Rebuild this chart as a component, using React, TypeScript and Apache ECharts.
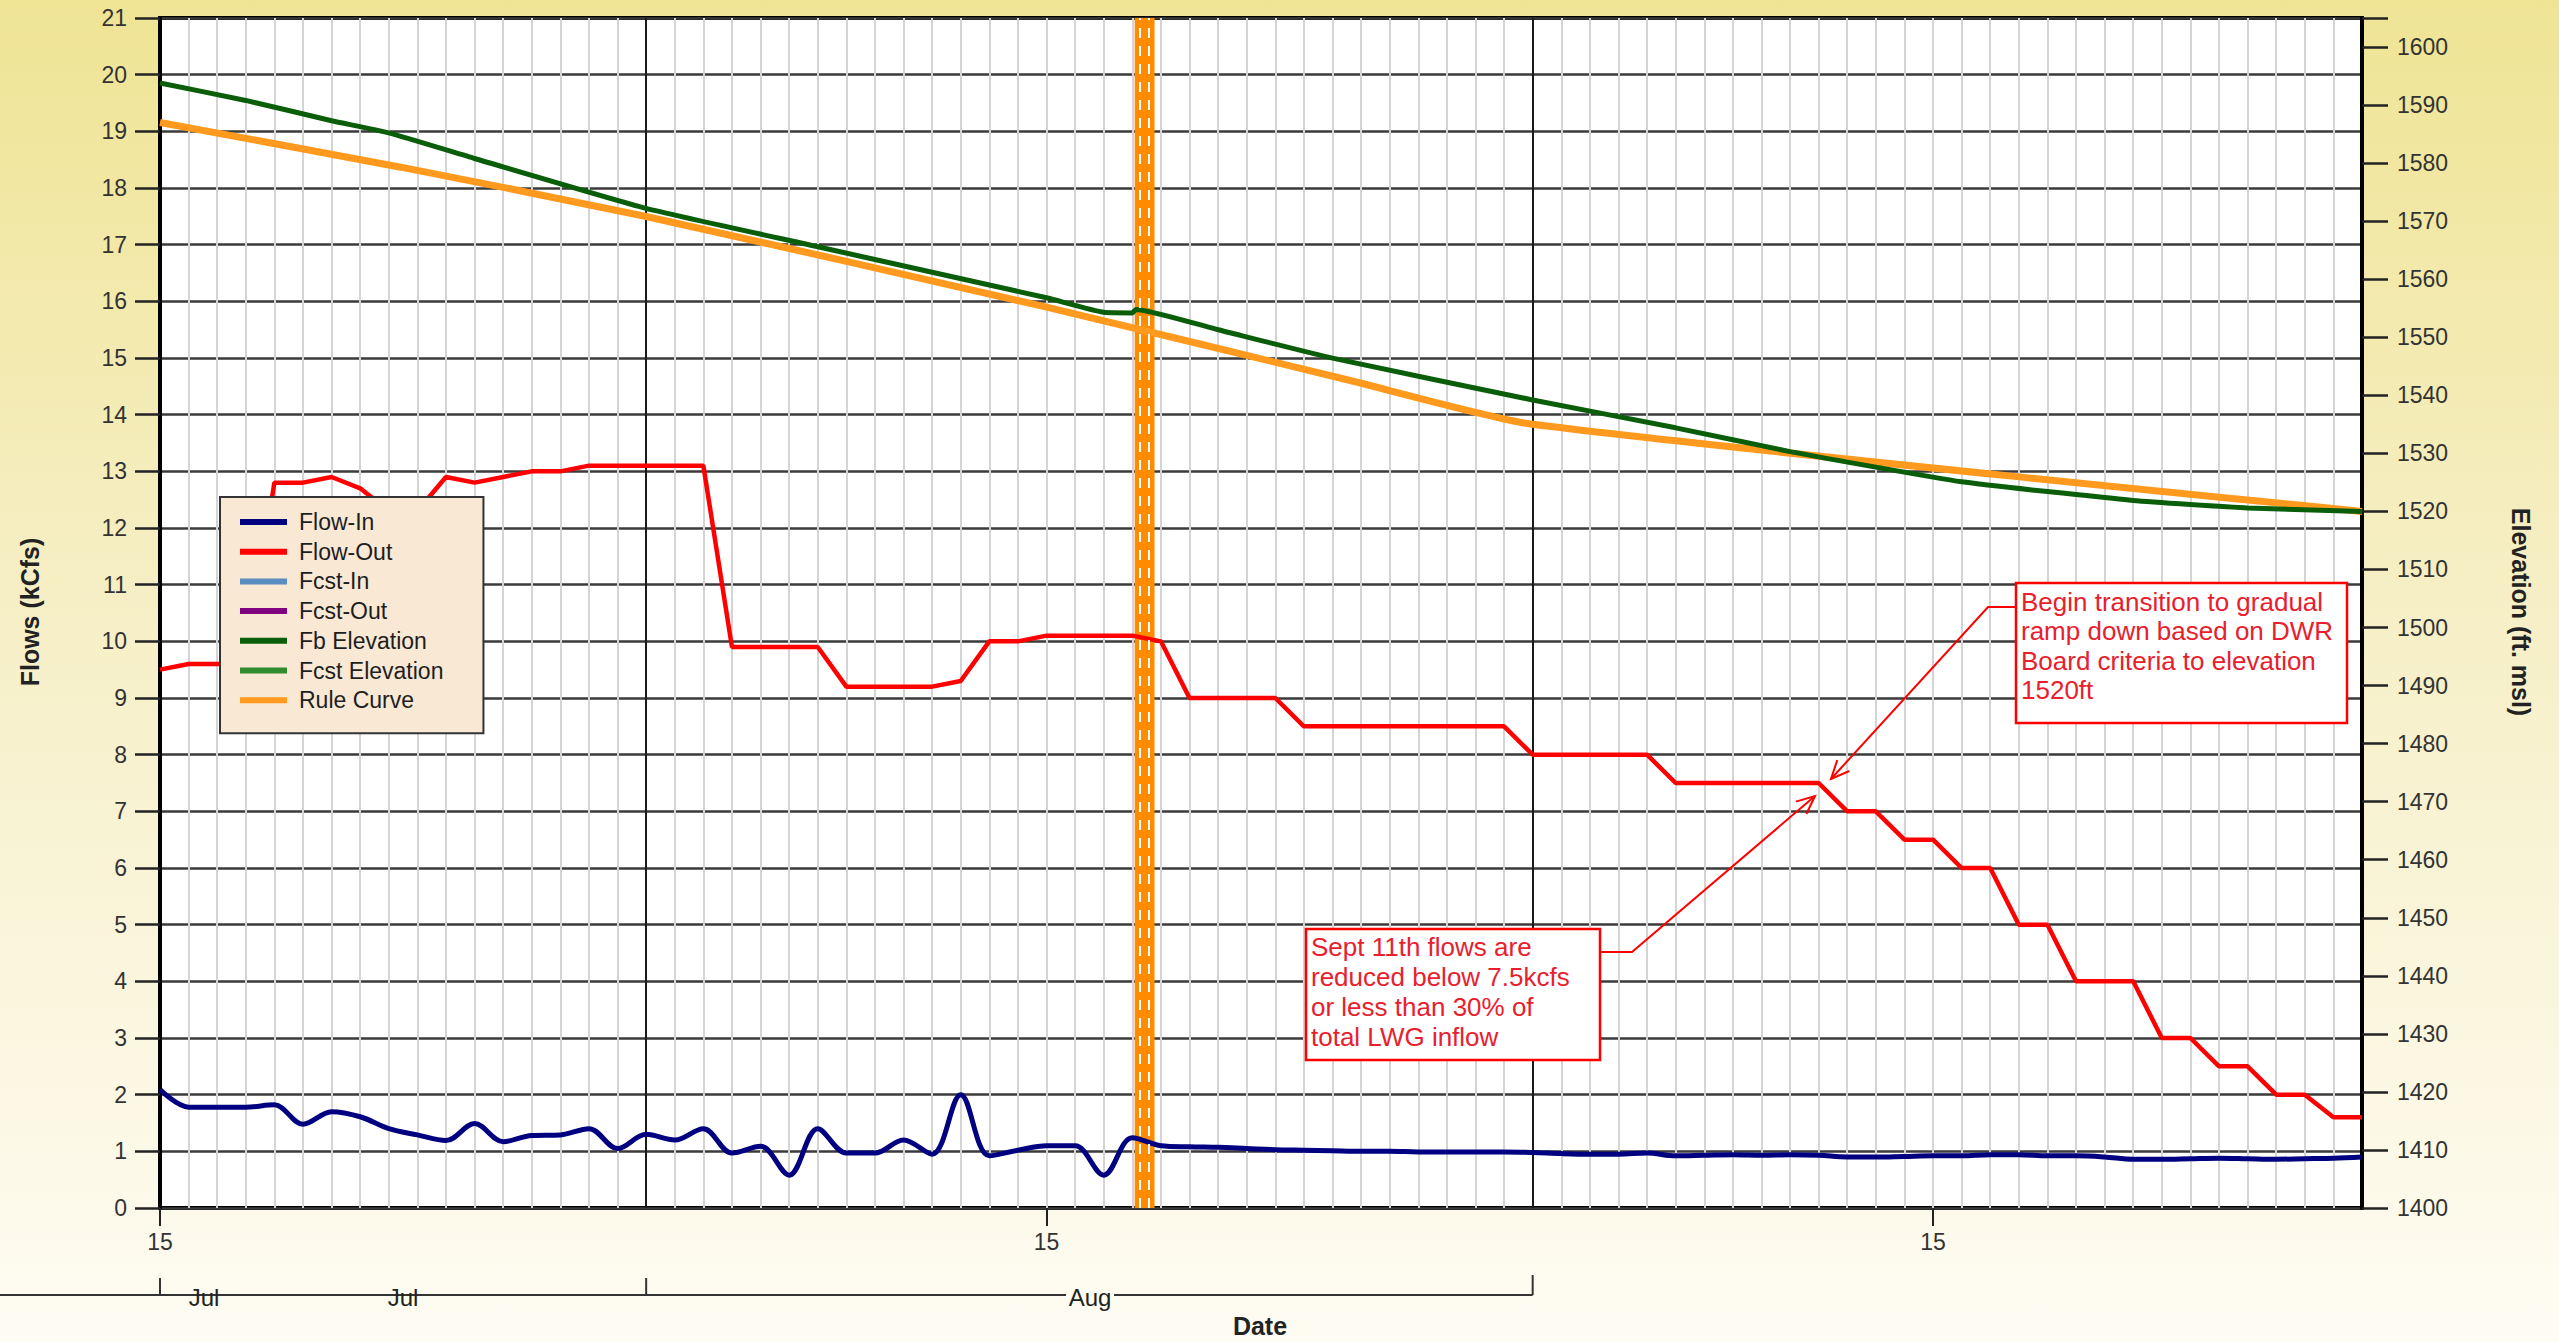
import React, { useEffect, useRef } from 'react';
import * as echarts from 'echarts';

const FONT = '"Liberation Sans", Arial, Helvetica, sans-serif';
const START = Date.UTC(2014, 6, 15);
const DAY = 86400000;
const NDAYS = 78;

// daily categories Jul 15 .. Sep 30
const dayDates: string[] = Array.from({ length: NDAYS }, (_, i) =>
  new Date(START + i * DAY).toISOString().slice(0, 10)
);

const monthStarts = ['2014-08-01', '2014-09-01'];

// Flow-In (kcfs), daily
const flowIn = [
  2.09, 1.78, 1.78, 1.78, 1.82, 1.48, 1.70, 1.61, 1.40, 1.29,
  1.19, 1.49, 1.17, 1.28, 1.29, 1.40, 1.05, 1.30, 1.20, 1.40,
  0.97, 1.09, 0.58, 1.40, 0.97, 0.97, 1.20, 0.95, 2.00, 0.92,
  1.02, 1.10, 1.10, 0.58, 1.24, 1.10, 1.08, 1.07, 1.05, 1.03,
  1.02, 1.01, 1.00, 1.00, 0.99, 0.99, 0.99, 0.99, 0.98, 0.96,
  0.95, 0.95, 0.97, 0.92, 0.93, 0.94, 0.93, 0.94, 0.93, 0.90,
  0.90, 0.91, 0.92, 0.92, 0.94, 0.94, 0.92, 0.92, 0.90, 0.86,
  0.86, 0.87, 0.88, 0.87, 0.86, 0.87, 0.88, 0.90,
];

// Flow-Out (kcfs), daily
const flowOut = [
  9.5, 9.6, 9.6, 9.6, 12.8, 12.8, 12.9, 12.7, 12.3, 12.3,
  12.9, 12.8, 12.9, 13.0, 13.0, 13.1, 13.1, 13.1, 13.1, 13.1,
  9.9, 9.9, 9.9, 9.9, 9.2, 9.2, 9.2, 9.2, 9.3, 10.0,
  10.0, 10.1, 10.1, 10.1, 10.1, 10.0, 9.0, 9.0, 9.0, 9.0,
  8.5, 8.5, 8.5, 8.5, 8.5, 8.5, 8.5, 8.5, 8.0, 8.0,
  8.0, 8.0, 8.0, 7.5, 7.5, 7.5, 7.5, 7.5, 7.5, 7.0,
  7.0, 6.5, 6.5, 6.0, 6.0, 5.0, 5.0, 4.0, 4.0, 4.0,
  3.0, 3.0, 2.5, 2.5, 2.0, 2.0, 1.6, 1.6,
];

// Fb Elevation (ft msl)
const fbElevDates = [
  '2014-07-15', '2014-07-18', '2014-07-21', '2014-07-23', '2014-07-26',
  '2014-08-01', '2014-08-07', '2014-08-11', '2014-08-15', '2014-08-17', '2014-08-18',
  '2014-08-18T03:00', '2014-08-21', '2014-08-25', '2014-09-01', '2014-09-06', '2014-09-10',
  '2014-09-16', '2014-09-22', '2014-09-26', '2014-09-30',
];
const fbElevValues = [
  1593.8, 1590.8, 1587.3, 1585.2, 1580.8,
  1572.2, 1565.6, 1561.2, 1556.8, 1554.3, 1554.2,
  1554.8, 1551.3, 1546.4, 1539.2, 1534.4, 1530.3,
  1525.1, 1521.9, 1520.6, 1520.0,
];

// Rule Curve (ft msl)
const ruleDates = ['2014-07-15', '2014-07-23T10:00', '2014-08-01', '2014-08-15', '2014-08-25T14:00', '2014-09-01', '2014-09-30'];
const ruleValues = [1587.0, 1579.3, 1570.8, 1555.2, 1542.6, 1535.0, 1520.0];

// current-time marker
const markerBand = ['2014-08-18T02:00', '2014-08-18T18:40'];
const markerDashes = ['2014-08-18T06:00', '2014-08-18T13:30'];

const legendNames = ['Flow-In', 'Flow-Out', 'Fcst-In', 'Fcst-Out', 'Fb Elevation', 'Fcst Elevation', 'Rule Curve'];
const legendColors = ['#000080', '#ff0000', '#5b8ec0', '#800080', '#0a5e0a', '#2e8b2e', '#ff9a1f'];

const ann1Text = 'Sept 11th flows are\nreduced below 7.5kcfs\nor less than 30% of\ntotal LWG inflow';
const ann2Text = 'Begin transition to gradual\nramp down based on DWR\nBoard criteria to elevation\n1520ft';

const dayOf = (s: string) => (Date.parse(s.length === 10 ? s : s + ':00Z') - START) / DAY;

// layout (px)
const W = 2559, H = 1342;
const GL = 160, GR = 2362, GT = 18, GB = 1208;
const px = (d: number) => GL + (d * (GR - GL)) / (NDAYS - 1);

function arrowHead(tip: number[], from: number[], len = 20, ang = 0.42) {
  const dx = tip[0] - from[0], dy = tip[1] - from[1];
  const l = Math.hypot(dx, dy);
  const ux = dx / l, uy = dy / l;
  const rot = (a: number) => [
    tip[0] - len * (ux * Math.cos(a) - uy * Math.sin(a)),
    tip[1] - len * (ux * Math.sin(a) + uy * Math.cos(a)),
  ];
  return [rot(ang), tip, rot(-ang)];
}

export default function App() {
  const ref = useRef<HTMLDivElement>(null);
  useEffect(() => {
    if (!ref.current) return;
    const chart = echarts.init(ref.current, undefined, { renderer: 'svg' });
    const txt = (text: string, x: number, y: number, extra: any = {}, rotation = 0) => ({
      type: 'text', x, y, rotation, z: 10,
      style: {
        text, fill: '#222', fontFamily: FONT, fontSize: 23,
        align: 'center', verticalAlign: 'middle', textAlign: 'center', textVerticalAlign: 'middle',
        ...extra,
      },
    });
    const ln = (x1: number, y1: number, x2: number, y2: number) => ({
      type: 'line', z: 10, shape: { x1, y1, x2, y2 }, style: { stroke: '#333', lineWidth: 2 },
    });
    const a1From = [1632, 952], a1Tip = [1815, 796];
    const a2From = [1988, 607], a2Tip = [1831, 779];
    const yBr = 1295;

    const lineSeries = (name: string, idx: number, data: any[], extra: any = {}) => ({
      name, type: 'line', data, showSymbol: false, symbol: 'none',
      lineStyle: { color: legendColors[idx], width: 4.5 },
      itemStyle: { color: legendColors[idx] },
      silent: true,
      ...extra,
    });

    const option: any = {
      animation: false,
      backgroundColor: new echarts.graphic.LinearGradient(0, 0, 0, 1, [
        { offset: 0, color: '#efe494' },
        { offset: 0.45, color: '#f6efc6' },
        { offset: 1, color: '#fefcf3' },
      ]),
      textStyle: { fontFamily: FONT },
      grid: {
        left: GL, right: W - GR, top: GT, bottom: H - GB,
        show: true, backgroundColor: '#ffffff', borderColor: '#000', borderWidth: 4,
        containLabel: false, outerBoundsMode: 'none',
      },
      legend: {
        data: legendNames,
        orient: 'vertical',
        left: 220, top: 497,
        z: 20,
        padding: [13, 40, 21, 20],
        itemGap: 5.7,
        itemWidth: 47, itemHeight: 6,
        icon: 'rect',
        backgroundColor: '#f8e8d4',
        borderColor: '#333', borderWidth: 2,
        selectedMode: false,
        textStyle: { fontSize: 23, lineHeight: 24, color: '#1e1e1e', fontFamily: FONT, padding: [0, 0, 0, 7] },
      },
      xAxis: [
        { type: 'value', min: 0, max: NDAYS - 1, show: false },
        {
          type: 'category', data: dayDates, boundaryGap: false, position: 'bottom',
          axisLine: { show: false },
          axisTick: { show: true, inside: false, length: 18, interval: (_i: number, v: string) => v.endsWith('-15'), lineStyle: { color: '#222', width: 2 } },
          axisLabel: { interval: (_i: number, v: string) => v.endsWith('-15'), formatter: (v: string) => String(Number(v.slice(8))), margin: 22, fontSize: 23, color: '#333', fontFamily: FONT },
          splitLine: { show: true, interval: (i: number) => i > 0 && i < NDAYS - 1, lineStyle: { color: '#d4d4d4', width: 2 } },
        },
        {
          type: 'category', data: dayDates, boundaryGap: false, position: 'bottom',
          axisLine: { show: false }, axisTick: { show: false }, axisLabel: { show: false },
          splitLine: { show: true, interval: (_i: number, v: string) => monthStarts.includes(v), lineStyle: { color: '#1a1a1a', width: 2 } },
        },
      ],
      yAxis: [
        {
          type: 'value', min: 0, max: 21, interval: 1, position: 'left',
          axisLine: { show: true, lineStyle: { color: '#000', width: 4 } },
          axisTick: { show: true, inside: false, length: 25, lineStyle: { color: '#222', width: 2.5 } },
          axisLabel: { fontSize: 23, color: '#333', margin: 33, fontFamily: FONT },
          splitLine: { show: true, lineStyle: { color: '#3a3a3a', width: 2.5 } },
        },
        {
          type: 'value', min: 1400, max: 1605, interval: 10, position: 'right',
          axisLine: { show: true, lineStyle: { color: '#000', width: 4 } },
          axisTick: { show: true, inside: false, length: 26, lineStyle: { color: '#222', width: 2.5 } },
          axisLabel: { fontSize: 23, color: '#333', margin: 35, fontFamily: FONT, formatter: (v: number) => (v % 10 === 0 ? String(v) : '') },
          splitLine: { show: false },
        },
      ],
      series: [
        lineSeries('Flow-In', 0, flowIn.map((v, i) => [i, v]), {
          smooth: 0.35, z: 4, lineStyle: { color: legendColors[0], width: 5 },
          markArea: {
            silent: true, label: { show: false },
            itemStyle: { color: '#ff8c00', opacity: 1 },
            data: [[{ xAxis: dayOf(markerBand[0]) }, { xAxis: dayOf(markerBand[1]) }]],
          },
          markLine: {
            silent: true, symbol: ['none', 'none'], label: { show: false },
            lineStyle: { color: '#ffffff', width: 2, type: [10, 8] },
            data: markerDashes.map((d) => ({ xAxis: dayOf(d) })),
          },
        }),
        lineSeries('Flow-Out', 1, flowOut.map((v, i) => [i, v]), { z: 4 }),
        lineSeries('Fcst-In', 2, []),
        lineSeries('Fcst-Out', 3, []),
        lineSeries('Fb Elevation', 4, fbElevDates.map((d, i) => [dayOf(d), fbElevValues[i]]), {
          yAxisIndex: 1, smooth: 0.15, z: 3, lineStyle: { color: legendColors[4], width: 5 },
        }),
        lineSeries('Fcst Elevation', 5, [], { yAxisIndex: 1 }),
        lineSeries('Rule Curve', 6, ruleDates.map((d, i) => [dayOf(d), ruleValues[i]]), {
          yAxisIndex: 1, smooth: 0.2, z: 2, lineStyle: { color: legendColors[6], width: 7 },
        }),
      ],
      graphic: [
        // axis titles
        txt('Flows (kCfs)', 30, 612, { fontWeight: 'bold', fontSize: 25 }, Math.PI / 2),
        txt('Elevation (ft. msl)', 2521, 612, { fontWeight: 'bold', fontSize: 25 }, -Math.PI / 2),
        txt('Date', 1260, 1326, { fontWeight: 'bold', fontSize: 25 }),
        // month bracket axis
        ln(0, yBr, 1066, yBr),
        ln(1114, yBr, px(48), yBr),
        ln(px(0), yBr - 17, px(0), yBr),
        ln(px(17), yBr - 17, px(17), yBr),
        ln(px(48), yBr - 20, px(48), yBr),
        txt('Jul', 204, yBr + 2, { fontSize: 24 }),
        txt('Jul', 403, yBr + 2, { fontSize: 24 }),
        txt('Aug', 1090, yBr + 2, { fontSize: 24 }),
        // annotation 1
        { type: 'rect', z: 10, shape: { x: 1306, y: 929, width: 294, height: 131 }, style: { fill: '#fff', stroke: '#ff0000', lineWidth: 2.5 } },
        { type: 'text', z: 11, x: 1311, y: 932, style: { text: ann1Text, fill: '#e8202e', fontFamily: FONT, fontSize: 26, lineHeight: 30, align: 'left', verticalAlign: 'top', textAlign: 'left', textVerticalAlign: 'top' } },
        { type: 'polyline', z: 10, shape: { points: [[1600, 952], a1From, a1Tip] }, style: { stroke: '#ff0000', lineWidth: 2, fill: null } },
        { type: 'polyline', z: 10, shape: { points: arrowHead(a1Tip, a1From) }, style: { stroke: '#ff0000', lineWidth: 2, fill: null } },
        // annotation 2
        { type: 'rect', z: 10, shape: { x: 2016, y: 583, width: 331, height: 140 }, style: { fill: '#fff', stroke: '#ff0000', lineWidth: 2.5 } },
        { type: 'text', z: 11, x: 2021, y: 587, style: { text: ann2Text, fill: '#e8202e', fontFamily: FONT, fontSize: 26, lineHeight: 29.5, align: 'left', verticalAlign: 'top', textAlign: 'left', textVerticalAlign: 'top' } },
        { type: 'polyline', z: 10, shape: { points: [[2016, 607], a2From, a2Tip] }, style: { stroke: '#ff0000', lineWidth: 2, fill: null } },
        { type: 'polyline', z: 10, shape: { points: arrowHead(a2Tip, a2From) }, style: { stroke: '#ff0000', lineWidth: 2, fill: null } },
      ],
    };
    chart.setOption(option);
    return () => chart.dispose();
  }, []);
  return (
    <div
      ref={ref}
      style={{ position: 'fixed', left: 0, top: 0, width: W + 'px', height: H + 'px' }}
    />
  );
}
